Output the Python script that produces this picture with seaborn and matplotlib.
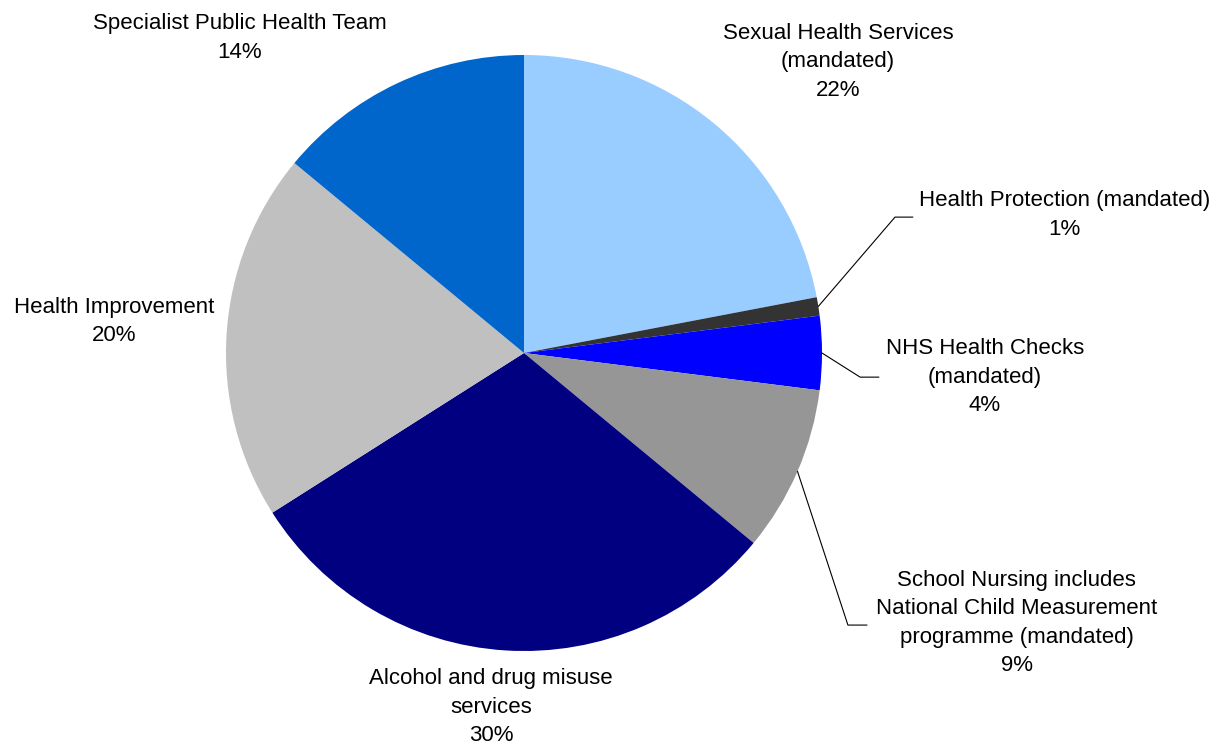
import numpy as np
import matplotlib
matplotlib.use("Agg")
import matplotlib.pyplot as plt
import seaborn as sns

# Public health budget split
categories = [
    "Sexual Health Services\n(mandated)",
    "Health Protection (mandated)",
    "NHS Health Checks\n(mandated)",
    "School Nursing includes\nNational Child Measurement\nprogramme (mandated)",
    "Alcohol and drug misuse\nservices",
    "Health Improvement",
    "Specialist Public Health Team",
]
shares = [22, 1, 4, 9, 30, 20, 14]
colors = ["#99CCFF", "#333333", "#0000FF", "#969696", "#000080", "#C0C0C0", "#0066CC"]

# Label centres (axes data units, pie radius = 1)
label_pos = [
    (1.054, 0.977),
    (1.815, 0.463),
    (1.547, -0.081),
    (1.654, -0.906),
    (-0.111, -1.188),
    (-1.376, 0.107),
    (-0.953, 1.057),
]
# Leader lines: elbow and end points for the small slices
leaders = {
    1: [(1.245, 0.456), (1.305, 0.456)],
    2: [(1.128, -0.081), (1.191, -0.081)],
    3: [(1.087, -0.913), (1.151, -0.913)],
}

sns.set_theme(style="white")
plt.rcParams["font.family"] = ["Liberation Sans", "DejaVu Sans"]

W, H = 1225, 747
fig = plt.figure(figsize=(W / 100, H / 100), dpi=100)
cx, cy, r = 524, 353, 298
ax = fig.add_axes([(cx - r) / W, (H - cy - r) / H, 2 * r / W, 2 * r / H])

wedges, _ = ax.pie(
    shares,
    colors=colors,
    startangle=90,
    counterclock=False,
    radius=1,
    wedgeprops=dict(linewidth=0),
)

ax.set_xlim(-1, 1)
ax.set_ylim(-1, 1)
ax.set_aspect("equal")
ax.axis("off")

for i, (lab, val) in enumerate(zip(categories, shares)):
    x, y = label_pos[i]
    ax.text(x, y, f"{lab}\n{val}%", ha="center", va="center", fontsize=16,
            color="#000000", linespacing=1.45, clip_on=False)
    if i in leaders:
        w = wedges[i]
        mid = np.deg2rad((w.theta1 + w.theta2) / 2)
        pts = [(np.cos(mid), np.sin(mid))] + leaders[i]
        xs, ys = zip(*pts)
        ax.plot(xs, ys, color="#000000", lw=0.8, clip_on=False)

fig.savefig("out.png", dpi=100, facecolor="white")
